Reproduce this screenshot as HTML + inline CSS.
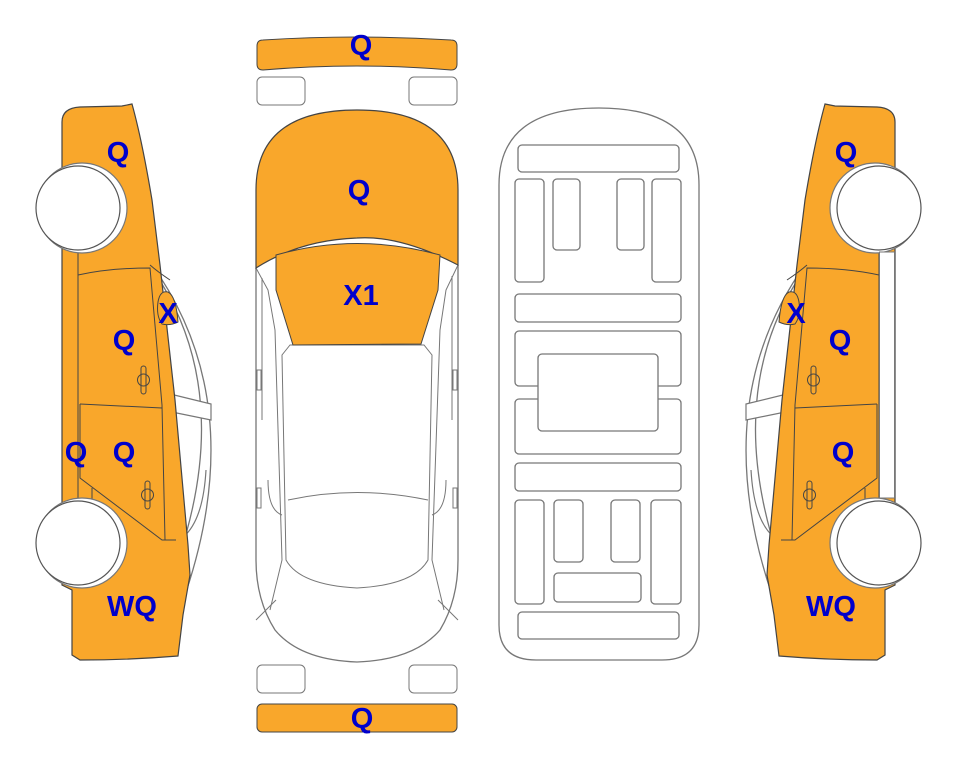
<!DOCTYPE html>
<html><head><meta charset="utf-8"><style>
html,body{margin:0;padding:0;background:#fff;}
svg{display:block;}
text{font-family:"Liberation Sans",Arial,sans-serif;font-weight:bold;font-size:29px;fill:#0000cc;text-anchor:middle;}
</style></head><body>
<svg width="963" height="768" viewBox="0 0 963 768" xmlns="http://www.w3.org/2000/svg">
<defs>
<g id="side">
  <path d="M150,262 Q250,400 186,592" fill="none" stroke="#777" stroke-width="1.3"/>
  <path d="M162,284 Q232,400 178,560" fill="none" stroke="#777" stroke-width="1.3"/>
  <path d="M162,392 L211,404 L211,420 L162,410" fill="#fff" stroke="#777" stroke-width="1.2"/>
  <path d="M165,545 Q202,540 206,470" fill="none" stroke="#777" stroke-width="1.2"/>
  <path d="M62,122 Q62,108 80,107 L122,106 L132,104 Q142,140 152,200 L160,265 L175,400 L188,545 L190,575 L183,615 L178,656 Q130,660 80,660 L72,655 L72,590 L62,585 L62,500 L62,250 L62,122 Z" fill="#f9a72b" stroke="#444" stroke-width="1.2"/>
  <path d="M150,265 Q158,272 170,280" fill="none" stroke="#444" stroke-width="1"/>
  <path d="M78,250 L78,500" fill="none" stroke="#444" stroke-width="1"/>
  <path d="M78,275 Q110,268 150,268 L162,405 L165,540" fill="none" stroke="#444" stroke-width="1"/>
  <path d="M80,404 L162,408" fill="none" stroke="#444" stroke-width="1"/>
  <path d="M80,404 L80,478 L162,540 L176,540" fill="none" stroke="#444" stroke-width="1"/>
  <path d="M92,488 L92,512" fill="none" stroke="#444" stroke-width="1"/>
  <path d="M158,302 Q160,290 168,292 Q176,296 178,322 Q170,326 162,324 Q156,316 158,302 Z" fill="#f9a72b" stroke="#444" stroke-width="1"/>
  <rect x="141" y="366" width="5" height="28" rx="2.5" fill="none" stroke="#444"/>
  <circle cx="143.5" cy="380" r="6" fill="none" stroke="#444"/>
  <rect x="145" y="481" width="5" height="28" rx="2.5" fill="none" stroke="#444"/>
  <circle cx="147.5" cy="495" r="6" fill="none" stroke="#444"/>
  <circle cx="82" cy="208" r="45" fill="#fff" stroke="#777" stroke-width="1.2"/>
  <circle cx="78" cy="208" r="42" fill="#fff" stroke="#555" stroke-width="1.2"/>
  <circle cx="82" cy="543" r="45" fill="#fff" stroke="#777" stroke-width="1.2"/>
  <circle cx="78" cy="543" r="42" fill="#fff" stroke="#555" stroke-width="1.2"/>
</g>
</defs>

<use href="#side"/>
<g transform="translate(957,0) scale(-1,1)">
  <use href="#side"/>
  <rect x="62.5" y="252" width="15" height="246" fill="#fff" stroke="#777" stroke-width="1"/>
</g>

<path d="M257,46 Q257,40 263,40 Q357,34 451,40 Q457,40 457,46 L457,64 Q457,70 451,70 Q357,62 263,70 Q257,70 257,64 Z" fill="#f9a72b" stroke="#444"/>
<rect x="257" y="77" width="48" height="28" rx="5" fill="#fff" stroke="#777"/>
<rect x="409" y="77" width="48" height="28" rx="5" fill="#fff" stroke="#777"/>
<rect x="257" y="665" width="48" height="28" rx="5" fill="#fff" stroke="#777"/>
<rect x="409" y="665" width="48" height="28" rx="5" fill="#fff" stroke="#777"/>
<rect x="257" y="704" width="200" height="28" rx="5" fill="#f9a72b" stroke="#444"/>

<path d="M256,268 L256,560 Q256,600 275,630 Q300,660 357,662 Q414,660 440,630 Q458,600 458,560 L458,265" fill="#fff" stroke="#777" stroke-width="1.3"/>
<path d="M256,268 L268,290 L275,330 L282,560 L270,610 M458,265 L446,290 L440,330 L432,560 L444,610" fill="none" stroke="#777"/>
<path d="M262,278 L262,420 M452,276 L452,420" fill="none" stroke="#777"/>
<path d="M290,345 L282,355 L286,560 Q300,585 357,588 Q414,585 428,560 L432,355 L424,345 Z" fill="#fff" stroke="#777"/>
<path d="M288,500 Q357,485 428,500" fill="none" stroke="#777"/>
<path d="M268,480 Q268,510 282,515 M446,480 Q446,510 432,515" fill="none" stroke="#777"/>
<path d="M256,620 L276,600 M458,620 L438,600" fill="none" stroke="#777"/>
<rect x="257" y="370" width="4" height="20" fill="#fff" stroke="#777"/>
<rect x="453" y="370" width="4" height="20" fill="#fff" stroke="#777"/>
<rect x="257" y="488" width="4" height="20" fill="#fff" stroke="#777"/>
<rect x="453" y="488" width="4" height="20" fill="#fff" stroke="#777"/>
<path d="M256,268 L256,190 Q256,110 357,110 Q458,110 458,190 L458,265 Q400,235 357,238 Q300,240 256,268 Z" fill="#f9a72b" stroke="#444" stroke-width="1.2"/>
<path d="M276,255 Q357,232 440,255 L438,290 L421,344 L293,345 L276,290 Z" fill="#f9a72b" stroke="#444" stroke-width="1"/>

<path d="M499,185 Q499,108 599,108 Q699,108 699,185 L699,625 Q699,660 662,660 L536,660 Q499,660 499,625 Z" fill="#fff" stroke="#777" stroke-width="1.3"/>
<g fill="none" stroke="#777" stroke-width="1.3">
<rect x="518" y="145" width="161" height="27" rx="4"/>
<rect x="515" y="179" width="29" height="103" rx="4"/>
<rect x="553" y="179" width="27" height="71" rx="4"/>
<rect x="617" y="179" width="27" height="71" rx="4"/>
<rect x="652" y="179" width="29" height="103" rx="4"/>
<rect x="515" y="294" width="166" height="28" rx="4"/>
<rect x="515" y="331" width="166" height="55" rx="4"/>
<rect x="515" y="399" width="166" height="55" rx="4"/>
<rect x="538" y="354" width="120" height="77" rx="4" fill="#fff"/>
<rect x="515" y="463" width="166" height="28" rx="4"/>
<rect x="515" y="500" width="29" height="104" rx="4"/>
<rect x="554" y="500" width="29" height="62" rx="4"/>
<rect x="611" y="500" width="29" height="62" rx="4"/>
<rect x="651" y="500" width="30" height="104" rx="4"/>
<rect x="554" y="573" width="87" height="29" rx="4"/>
<rect x="518" y="612" width="161" height="27" rx="4"/>
</g>

<text x="361" y="55">Q</text>
<text x="359" y="200">Q</text>
<text x="361" y="305">X1</text>
<text x="362" y="728">Q</text>
<text x="118" y="162">Q</text>
<text x="168" y="323">X</text>
<text x="124" y="350">Q</text>
<text x="76" y="462">Q</text>
<text x="124" y="462">Q</text>
<text x="132" y="616">WQ</text>
<text x="846" y="162">Q</text>
<text x="796" y="323">X</text>
<text x="840" y="350">Q</text>
<text x="843" y="462">Q</text>
<text x="831" y="616">WQ</text>
</svg>
</body></html>
